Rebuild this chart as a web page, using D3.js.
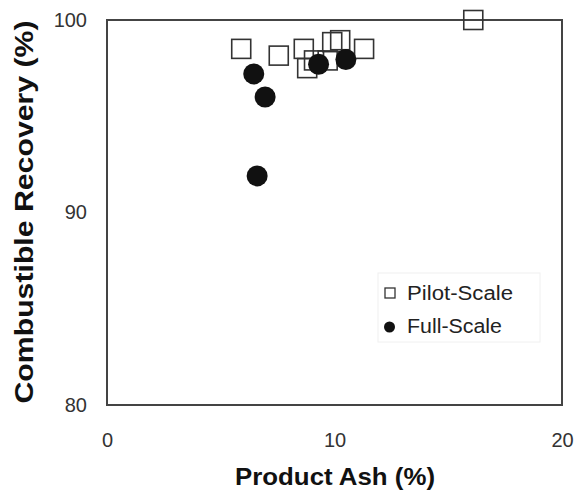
<!DOCTYPE html>
<html><head><meta charset="utf-8">
<script src="https://cdn.jsdelivr.net/npm/d3@7"></script>
<style>body{margin:0;background:#fff}svg{display:block}</style>
</head><body>
<script>
const pilotAsh = [5.9, 7.55, 8.65, 8.8, 9.1, 9.7, 9.9, 10.25, 11.3, 16.1];
const pilotRec = [98.5, 98.15, 98.5, 97.5, 97.9, 97.9, 98.85, 98.95, 98.5, 100.0];
const fullAsh = [6.45, 6.95, 6.6, 9.3, 10.5];
const fullRec = [97.2, 96.0, 91.9, 97.7, 97.95];
const xTicks = [0, 10, 20];
const yTicks = [80, 90, 100];

const W = 574, H = 491;
const m = {left:107, right:12, top:20, bottom:86};
const svg = d3.select("body").append("svg").attr("width", W).attr("height", H);
const x = d3.scaleLinear().domain([0,20]).range([m.left, W-m.right]);
const y = d3.scaleLinear().domain([80,100]).range([H-m.bottom, m.top]);

svg.append("rect").attr("x", x(0)).attr("y", y(100)).attr("width", x(20)-x(0)).attr("height", y(80)-y(100))
  .attr("fill","none").attr("stroke","#444").attr("stroke-width",2);

const font = "Liberation Sans, Arial, sans-serif";
const xa = svg.append("g").attr("transform",`translate(0,${y(80)})`)
  .call(d3.axisBottom(x).tickValues(xTicks).tickSize(0).tickPadding(28).tickFormat(d3.format("d")));
const ya = svg.append("g").attr("transform",`translate(${x(0)},0)`)
  .call(d3.axisLeft(y).tickValues(yTicks).tickSize(0).tickPadding(20).tickFormat(d3.format("d")));
[xa, ya].forEach(a => {
  a.select(".domain").remove();
  a.selectAll("text").attr("font-family", font).attr("font-size", 20).attr("fill", "#333");
});

svg.append("text").attr("x", 335).attr("y", 485).attr("text-anchor","middle")
  .attr("font-family", font).attr("font-size", 24).attr("font-weight","bold").attr("fill","#111")
  .attr("textLength", 200).attr("lengthAdjust","spacingAndGlyphs")
  .text("Product Ash (%)");
svg.append("text").attr("transform", `translate(33,212) rotate(-90)`).attr("text-anchor","middle")
  .attr("font-family", font).attr("font-size", 26).attr("font-weight","bold").attr("fill","#111")
  .attr("textLength", 383).attr("lengthAdjust","spacingAndGlyphs")
  .text("Combustible Recovery (%)");

const s = 19;
svg.append("g").selectAll("rect").data(pilotAsh).join("rect")
  .attr("x", (d,i) => x(d) - s/2).attr("y", (d,i) => y(pilotRec[i]) - s/2)
  .attr("width", s).attr("height", s).attr("fill","none").attr("stroke","#333").attr("stroke-width",1.6);
svg.append("g").selectAll("circle").data(fullAsh).join("circle")
  .attr("cx", d => x(d)).attr("cy", (d,i) => y(fullRec[i])).attr("r", 10.5).attr("fill","#111");

const lg = svg.append("g");
lg.append("rect").attr("x", 378).attr("y", 273).attr("width", 162).attr("height", 69)
  .attr("fill","none").attr("stroke","#f0f0f0").attr("stroke-width",1);
lg.append("rect").attr("x", 390-5).attr("y", 293-5).attr("width", 10).attr("height", 10)
  .attr("fill","none").attr("stroke","#333").attr("stroke-width",1.3);
lg.append("circle").attr("cx", 389.5).attr("cy", 327).attr("r", 5.5).attr("fill","#111");
lg.append("text").attr("x", 407).attr("y", 300).attr("font-family", font).attr("font-size", 20).attr("fill","#222")
  .attr("textLength", 106).attr("lengthAdjust","spacingAndGlyphs").text("Pilot-Scale");
lg.append("text").attr("x", 407).attr("y", 333).attr("font-family", font).attr("font-size", 20).attr("fill","#222")
  .attr("textLength", 95).attr("lengthAdjust","spacingAndGlyphs").text("Full-Scale");
</script>
</body></html>
